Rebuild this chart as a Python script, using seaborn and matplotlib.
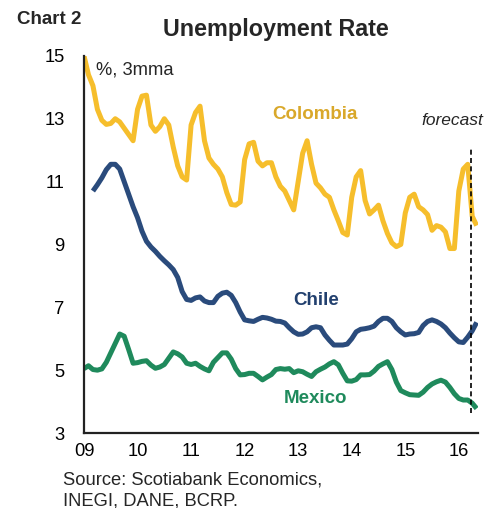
import numpy as np
import pandas as pd
import matplotlib
matplotlib.use("Agg")
import matplotlib.pyplot as plt
from matplotlib import font_manager
import seaborn as sns

# Monthly, Jan 2009 .. May 2016 (%, 3mma)
colombia = [15.0, 14.4, 14.05, 13.3, 12.95, 12.82, 12.85, 13.0, 12.9, 12.7, 12.5, 12.3,
            13.3, 13.72, 13.75, 12.8, 12.6, 12.75, 13.0, 12.8, 12.1, 11.5, 11.15, 11.05,
            12.8, 13.2, 13.4, 12.3, 11.75, 11.55, 11.4, 11.15, 10.65, 10.27, 10.25, 10.35,
            11.7, 12.2, 12.25, 11.65, 11.5, 11.6, 11.6, 11.15, 10.85, 10.7, 10.4, 10.1,
            11.0, 11.9, 12.3, 11.55, 10.95, 10.8, 10.6, 10.5, 10.1, 9.75, 9.38, 9.3,
            10.5, 11.15, 11.35, 10.4, 9.97, 10.1, 10.25, 9.75, 9.35, 9.05, 8.93, 9.0,
            10.0, 10.5, 10.6, 10.2, 10.1, 9.95, 9.45, 9.6, 9.55, 9.4, 8.87, 8.87,
            10.7, 11.4, 11.55, 9.9, 9.6]
chile = [np.nan, np.nan, 10.7, 10.9, 11.12, 11.38, 11.55, 11.55, 11.4, 11.0, 10.6, 10.2,
         9.85, 9.42, 9.1, 8.92, 8.78, 8.62, 8.48, 8.35, 8.2, 7.95, 7.5, 7.25,
         7.22, 7.3, 7.33, 7.2, 7.15, 7.15, 7.35, 7.45, 7.48, 7.38, 7.15, 6.85,
         6.6, 6.57, 6.55, 6.62, 6.68, 6.66, 6.62, 6.56, 6.55, 6.5, 6.35, 6.22,
         6.14, 6.15, 6.22, 6.35, 6.38, 6.35, 6.12, 5.95, 5.8, 5.8, 5.8, 5.83,
         6.0, 6.22, 6.3, 6.32, 6.35, 6.4, 6.55, 6.65, 6.65, 6.55, 6.35, 6.22,
         6.12, 6.15, 6.16, 6.2, 6.42, 6.55, 6.6, 6.55, 6.47, 6.35, 6.18, 6.03,
         5.9, 5.88, 6.05, 6.25, 6.52]
mexico = [5.05, 5.14, 5.02, 5.0, 5.04, 5.25, 5.55, 5.85, 6.15, 6.08, 5.66, 5.22,
          5.24, 5.28, 5.3, 5.16, 5.06, 5.1, 5.18, 5.38, 5.58, 5.52, 5.42, 5.22,
          5.18, 5.22, 5.12, 5.04, 4.98, 5.25, 5.4, 5.55, 5.55, 5.35, 5.05, 4.85,
          4.86, 4.9, 4.9, 4.8, 4.69, 4.78, 4.86, 5.02, 5.05, 5.03, 5.05, 4.92,
          4.98, 4.95, 4.87, 4.8, 4.95, 5.03, 5.1, 5.2, 5.27, 5.17, 4.9, 4.66,
          4.65, 4.7, 4.85, 4.85, 4.86, 4.97, 5.12, 5.2, 5.27, 5.02, 4.62, 4.35,
          4.28, 4.22, 4.21, 4.2, 4.3, 4.45, 4.56, 4.63, 4.68, 4.62, 4.45, 4.25,
          4.1, 4.05, 4.05, 3.95, 3.78]

year_ticks = [2009, 2010, 2011, 2012, 2013, 2014, 2015, 2016]
year_labels = ["09", "10", "11", "12", "13", "14", "15", "16"]
y_ticks = [3, 5, 7, 9, 11, 13, 15]
forecast_start = 2016.23

n = len(colombia)
t = 2009 + np.arange(n) / 12.0
df = pd.DataFrame({
    "t": np.concatenate([t, t, t]),
    "rate": np.concatenate([colombia, chile, mexico]),
    "country": ["Colombia"] * n + ["Chile"] * n + ["Mexico"] * n,
})

sns.set_style("white")
plt.rcParams["font.family"] = ["Liberation Sans", "DejaVu Sans"]

colors = {"Colombia": "#F6BE2C", "Chile": "#2A4B7C", "Mexico": "#1F8A5C"}

fig = plt.figure(figsize=(4.98, 5.08), dpi=100)
ax = fig.add_axes([0.1687, 0.1476, 0.7913, 0.7424])
sns.lineplot(data=df, x="t", y="rate", hue="country", palette=colors,
             linewidth=3.6, legend=False, ax=ax, solid_capstyle="butt")

ax.plot([forecast_start, forecast_start], [3.64, 12.1], color="black",
        linestyle=(0, (3, 2)), linewidth=1.2)

ax.set_xlim(2009, 2016.36)
ax.set_ylim(3, 15)
ax.set_xticks(year_ticks)
ax.set_xticklabels(year_labels)
ax.set_yticks(y_ticks)
ax.set_xlabel("")
ax.set_ylabel("")
for s in ["top", "right"]:
    ax.spines[s].set_visible(False)
for s in ["left", "bottom"]:
    ax.spines[s].set_color("#222222")
    ax.spines[s].set_linewidth(1.6)
ax.tick_params(axis="both", direction="in", length=5, width=1.2, color="#222222",
               labelsize=13.2, labelcolor="black")
ax.tick_params(axis="x", pad=7)
ax.tick_params(axis="y", pad=14)

ax.text(0.03, 0.985, "%, 3mma", transform=ax.transAxes, fontsize=13.2, va="top", ha="left")
ax.text(2013.31, 13.12, "Colombia", color="#D9A82A", fontsize=13.5, fontweight="bold", ha="center", va="center")
ax.text(2013.33, 7.23, "Chile", color="#22406E", fontsize=13.5, fontweight="bold", ha="center", va="center")
ax.text(2013.33, 4.11, "Mexico", color="#1F8A5C", fontsize=13.5, fontweight="bold", ha="center", va="center")
ax.text(2015.87, 12.95, "forecast", fontsize=12.5, fontstyle="italic", ha="center", va="center")

names = {f.name for f in font_manager.fontManager.ttflist}
if "Liberation Sans Narrow" in names:
    fig.text(0.034, 0.961, "Chart 2", fontsize=15.5, fontweight="bold",
             family=["Liberation Sans Narrow"], ha="left", va="center")
else:
    fig.text(0.034, 0.961, "Chart 2", fontsize=13.5, fontweight="bold", ha="left", va="center")
fig.text(0.553, 0.941, "Unemployment Rate", fontsize=16.8, fontweight="bold", ha="center", va="center")
fig.text(0.127, 0.055, "Source: Scotiabank Economics,", fontsize=13.2, ha="left", va="center")
fig.text(0.127, 0.014, "INEGI, DANE, BCRP.", fontsize=13.2, ha="left", va="center")

fig.savefig("out.png", dpi=100)
